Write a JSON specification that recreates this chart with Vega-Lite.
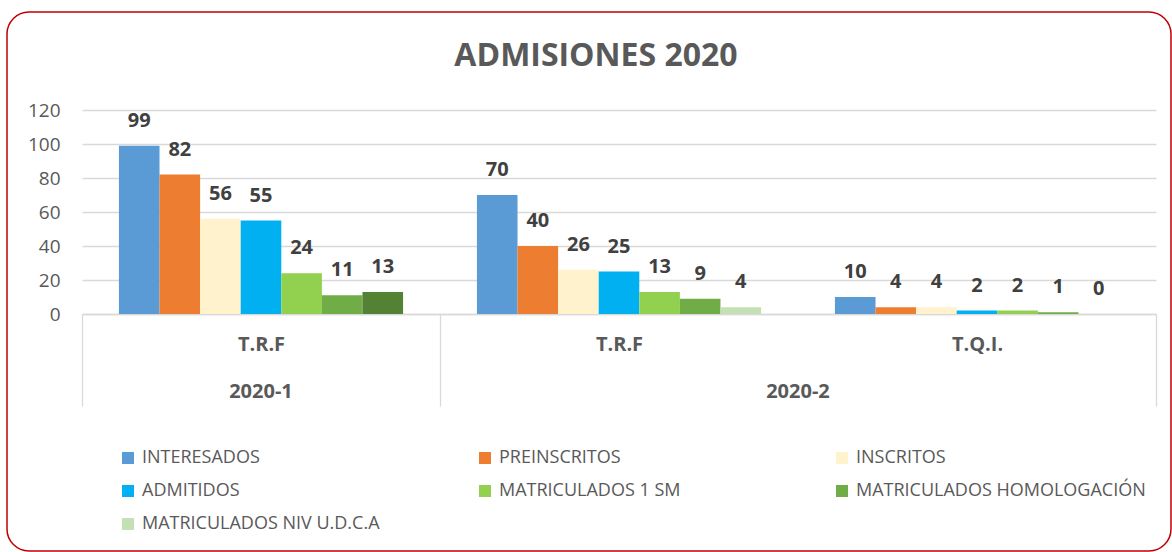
{
  "$schema": "https://vega.github.io/schema/vega-lite/v6.json",
  "width": 1164,
  "height": 539,
  "padding": {"left": 7, "top": 12, "right": 1, "bottom": 1},
  "background": "#ffffff",
  "config": {
    "view": {"stroke": "#C00000", "strokeWidth": 1.5, "cornerRadius": 22},
    "font": "Open Sans"
  },
  "title": {
    "text": "ADMISIONES 2020",
    "font": "Open Sans",
    "fontSize": 32,
    "fontWeight": "bold",
    "color": "#595959",
    "baseline": "middle",
    "offset": -76,
    "dx": 7
  },
  "data": {
    "values": [
      {"grupo": "2020-1 T.R.F", "serie": "INTERESADOS", "valor": 99},
      {"grupo": "2020-1 T.R.F", "serie": "PREINSCRITOS", "valor": 82},
      {"grupo": "2020-1 T.R.F", "serie": "INSCRITOS", "valor": 56},
      {"grupo": "2020-1 T.R.F", "serie": "ADMITIDOS", "valor": 55},
      {"grupo": "2020-1 T.R.F", "serie": "MATRICULADOS 1 SM", "valor": 24},
      {"grupo": "2020-1 T.R.F", "serie": "MATRICULADOS HOMOLOGACIÓN", "valor": 11},
      {"grupo": "2020-1 T.R.F", "serie": "MATRICULADOS NIV U.D.C.A", "valor": 13},
      {"grupo": "2020-2 T.R.F", "serie": "INTERESADOS", "valor": 70},
      {"grupo": "2020-2 T.R.F", "serie": "PREINSCRITOS", "valor": 40},
      {"grupo": "2020-2 T.R.F", "serie": "INSCRITOS", "valor": 26},
      {"grupo": "2020-2 T.R.F", "serie": "ADMITIDOS", "valor": 25},
      {"grupo": "2020-2 T.R.F", "serie": "MATRICULADOS 1 SM", "valor": 13},
      {"grupo": "2020-2 T.R.F", "serie": "MATRICULADOS HOMOLOGACIÓN", "valor": 9},
      {"grupo": "2020-2 T.R.F", "serie": "MATRICULADOS NIV U.D.C.A", "valor": 4},
      {"grupo": "2020-2 T.Q.I.", "serie": "INTERESADOS", "valor": 10},
      {"grupo": "2020-2 T.Q.I.", "serie": "PREINSCRITOS", "valor": 4},
      {"grupo": "2020-2 T.Q.I.", "serie": "INSCRITOS", "valor": 4},
      {"grupo": "2020-2 T.Q.I.", "serie": "ADMITIDOS", "valor": 2},
      {"grupo": "2020-2 T.Q.I.", "serie": "MATRICULADOS 1 SM", "valor": 2},
      {"grupo": "2020-2 T.Q.I.", "serie": "MATRICULADOS HOMOLOGACIÓN", "valor": 1},
      {"grupo": "2020-2 T.Q.I.", "serie": "MATRICULADOS NIV U.D.C.A", "valor": 0}
    ]
  },
  "encoding": {
    "y": {
      "field": "valor",
      "type": "quantitative",
      "scale": {"domain": [0, 120], "range": [302, 98], "nice": false},
      "axis": {
        "orient": "left",
        "offset": -75,
        "title": null,
        "domain": false,
        "ticks": false,
        "tickSize": 0,
        "values": [0, 20, 40, 60, 80, 100, 120],
        "labelPadding": 22,
        "labelFont": "Open Sans",
        "labelFontSize": 19,
        "labelColor": "#595959",
        "grid": true,
        "gridColor": "#D9D9D9",
        "gridWidth": 1.3
      }
    }
  },
  "layer": [
    {
      "mark": {"type": "bar"},
      "encoding": {
        "x": {
          "field": "grupo",
          "type": "nominal",
          "sort": null,
          "scale": {"range": [75, 1149], "paddingInner": 0, "paddingOuter": 0},
          "axis": {
            "orient": "bottom",
            "offset": -237,
            "title": null,
            "labelAngle": 0,
            "labelExpr": "split(datum.value, ' ')[1]",
            "labelFont": "Open Sans",
            "labelFontSize": 20,
            "labelFontWeight": "bold",
            "labelColor": "#595959",
            "labelBaseline": "middle",
            "labelPadding": -62,
            "domainColor": "#D9D9D9",
            "domainWidth": 1.3,
            "tickBand": "extent",
            "tickSize": 92,
            "tickColor": "#D9D9D9",
            "tickWidth": 1.3,
            "tickOpacity": {"condition": {"test": "datum.value === '2020-2 T.R.F'", "value": 0}, "value": 1}
          }
        },
        "xOffset": {
          "field": "serie",
          "type": "nominal",
          "sort": null,
          "scale": {"type": "band", "paddingInner": 0, "paddingOuter": 0.91}
        },
        "color": {
          "condition": {"test": "datum.grupo === '2020-1 T.R.F' && datum.serie === 'MATRICULADOS NIV U.D.C.A'", "value": "#548235"},
          "field": "serie",
          "type": "nominal",
          "sort": null,
          "scale": {
            "domain": ["INTERESADOS", "PREINSCRITOS", "INSCRITOS", "ADMITIDOS", "MATRICULADOS 1 SM", "MATRICULADOS HOMOLOGACIÓN", "MATRICULADOS NIV U.D.C.A"],
            "range": ["#5B9BD5", "#ED7D31", "#FFF2CC", "#00B0F0", "#92D050", "#70AD47", "#C5E0B4"]
          },
          "legend": {
            "orient": "none",
            "legendX": 112,
            "legendY": 437,
            "title": null,
            "columns": 3,
            "direction": "horizontal",
            "gridAlign": "all",
            "columnPadding": 44,
            "rowPadding": 15,
            "padding": 0,
            "symbolType": "square",
            "symbolSize": 144,
            "symbolStrokeWidth": 0,
            "labelOffset": 5,
            "labelFont": "Open Sans",
            "labelFontSize": 18,
            "labelColor": "#595959",
            "labelLimit": 400
          }
        }
      }
    },
    {
      "mark": {"type": "text", "fontWeight": "bold", "fontSize": 20, "font": "Open Sans", "color": "#404040", "baseline": "middle", "dy": -25},
      "encoding": {
        "x": {
          "field": "grupo",
          "type": "nominal",
          "sort": null,
          "scale": {"range": [75, 1149], "paddingInner": 0, "paddingOuter": 0},
          "axis": {
            "orient": "bottom",
            "offset": -237,
            "title": null,
            "labelAngle": 0,
            "labelExpr": "datum.value === '2020-1 T.R.F' ? '2020-1' : (datum.value === '2020-2 T.R.F' ? '2020-2' : '')",
            "labelOffset": {"condition": {"test": "datum.value === '2020-2 T.R.F'", "value": 179}, "value": 0},
            "labelFont": "Open Sans",
            "labelFontSize": 20,
            "labelFontWeight": "bold",
            "labelColor": "#595959",
            "labelBaseline": "middle",
            "labelPadding": 77,
            "domain": false,
            "ticks": false,
            "tickSize": 0
          }
        },
        "xOffset": {
          "field": "serie",
          "type": "nominal",
          "sort": null,
          "scale": {"type": "band", "paddingInner": 0, "paddingOuter": 0.91}
        },
        "text": {"field": "valor", "type": "quantitative"}
      }
    }
  ],
  "resolve": {
    "scale": {"x": "independent", "xOffset": "independent"},
    "axis": {"x": "independent"}
  }
}
